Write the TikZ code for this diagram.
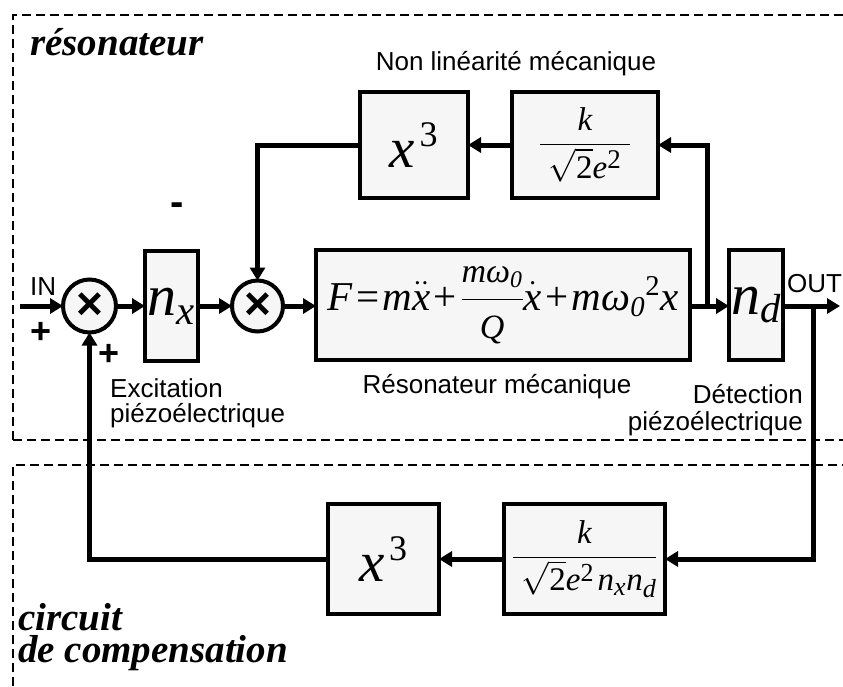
\RequirePackage{fix-cm}
\documentclass[tikz,border=0pt]{standalone}
\usepackage{amsmath}
\usepackage{fontspec}
\setmainfont{Liberation Serif}
\setsansfont{Liberation Sans}
\usetikzlibrary{arrows.meta}
\definecolor{boxfill}{RGB}{246,246,246}
\newcommand{\mi}[1]{\textit{#1}}
\newcommand{\mr}[1]{\textrm{#1}}
\newcommand{\fsz}[1]{\fontsize{#1}{#1}\selectfont}
\newcommand{\sfx}[2]{\text{\fsz{#1}#2}}
\begin{document}
\begin{tikzpicture}[x=1pt,y=-1pt,
  blk/.style={draw, line width=4pt, fill=boxfill, inner sep=0pt, outer sep=0pt},
  sumc/.style={draw, circle, line width=4pt, fill=boxfill, inner sep=0pt, outer sep=0pt, minimum size=53pt, font=\sffamily\bfseries\fsz{46}},
  conn/.style={line width=5pt, -{Triangle[length=13pt,width=15pt]}},
  frame/.style={line width=2.5pt, dash pattern=on 9pt off 5pt},
  lbl/.style={font=\sffamily\fsz{26}, inner sep=0pt},
  sgn/.style={font=\sffamily\bfseries\fsz{36}, inner sep=0pt},
  ttl/.style={font=\bfseries\itshape\fsz{39}, inner sep=0pt}]
\useasboundingbox (0,0) rectangle (843,686);

% dashed frames
\draw[frame] (13,440) -- (13,15) -- (843,15);
\draw[frame] (13,440) -- (843,440);
\draw[frame] (13,686) -- (13,465) -- (843,465);

% blocks
\node[blk, minimum width=108pt, minimum height=106pt, font=\fsz{57}] (nl3) at (414,145) {$\mi{x}^{\mskip2mu\sfx{36}{3}}$};
\node[blk, minimum width=146pt, minimum height=106pt, font=\fsz{33}] (nlk) at (585,145)
  {$\dfrac{\mi{k}}{\;\sqrt{\mr{2}}\mi{e}^{\sfx{27}{2}}\;}$};
\node[sumc] (c1) at (89.5,306) {×};
\node[blk, minimum width=53pt, minimum height=110pt, font=\fsz{58}] (nx) at (171.5,306) {$\mi{n}_{\mi{x}}$};
\node[sumc, minimum size=51pt] (c2) at (257.5,306) {×};
\node[blk, minimum width=374pt, minimum height=110pt, font=\fsz{41}] (F) at (503,305)
  {$\mi{F}\mskip1.5mu\mr{=}\mskip1.5mu\mi{m}\ddot{\mi{x}}\mskip1.5mu\mr{+}\mskip1.5mu\dfrac{\sfx{34}{$\mi{m}\mi{ω}_{\mi{0}}$}}{\sfx{34}{$\mi{Q}$}}\dot{\mi{x}}\mskip1.5mu\mr{+}\mskip1.5mu\mi{m}\mi{ω}_{\mi{0}}{}^{\mr{2}}\mi{x}$};
\node[blk, minimum width=54pt, minimum height=110pt, font=\fsz{58}] (nd) at (756,305) {$\mi{n}_{\mi{d}}$};
\node[blk, minimum width=111pt, minimum height=110pt, font=\fsz{57}] (c3) at (383.5,559) {$\mi{x}^{\mskip2mu\sfx{36}{3}}$};
\node[blk, minimum width=161pt, minimum height=110pt, font=\fsz{33}] (ck) at (584.5,559)
  {$\dfrac{\mi{k}}{\;\sqrt{\mr{2}}\mi{e}^{\sfx{26}{2}}\mskip2mu\mi{n}_{\sfx{26}{\itshape x}}\mi{n}_{\sfx{26}{\itshape d}}}$};

% connector points
\coordinate (in) at (20,306);
\coordinate (out) at (840,306);
\coordinate (j1) at (707,306);
\coordinate (j2) at (813,306);

% connectors
\draw[conn] (in) -- (c1.west);
\draw[conn] (c1.east) -- (nx.west);
\draw[conn] (nx.east) -- (c2.west);
\draw[conn] (c2.east) -- (F.west |- c2.east);
\draw[conn] (F.east |- c2.east) -- (nd.west |- c2.east);
\draw[conn] (nd.east |- c2.east) -- (out);
\draw[conn] (j1) |- (nlk.east);
\draw[conn] (nlk.west) -- (nl3.east);
\draw[conn] (nl3.west) -| (c2.north);
\draw[conn] (j2) |- (ck.east);
\draw[conn] (ck.west) -- (c3.east);
\draw[conn] (c3.west) -| (c1.south);

% labels
\node[ttl, anchor=base west] (t1) at (30,55) {résonateur};
\node[ttl, anchor=base west] (t2) at (18,630) {circuit};
\node[ttl, anchor=base west] (t3) at (18,662) {de compensation};
\node[lbl, anchor=base] (l1) at (516,70) {Non linéarité mécanique};
\node[lbl, anchor=base west] (l2) at (110,397) {Excitation};
\node[lbl, anchor=base west] (l3) at (110,422) {piézoélectrique};
\node[lbl, anchor=base] (l4) at (497,393) {Résonateur mécanique};
\node[lbl, anchor=base east] (l5) at (803,403) {Détection};
\node[lbl, anchor=base east] (l6) at (803,430) {piézoélectrique};
\node[lbl, anchor=base west] (lin) at (30,295) {IN};
\node[lbl, anchor=base west] (lout) at (787,292) {OUT};
\node[sgn] (p1) at (41,333) {+};
\node[sgn] (p2) at (109,355) {+};
\node[sgn, font=\sffamily\bfseries\fsz{40}] (m1) at (177,209) {-};
\end{tikzpicture}
\end{document}
